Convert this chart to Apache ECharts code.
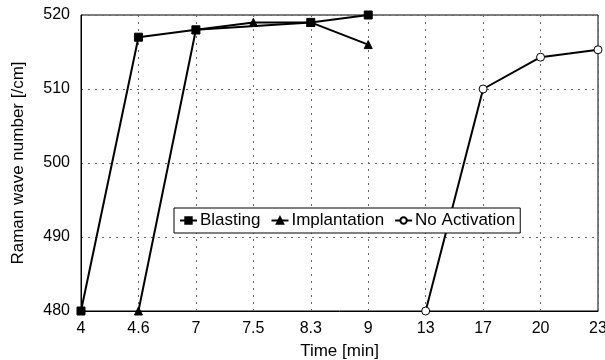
<!DOCTYPE html>
<html>
<head>
<meta charset="UTF-8">
<style>
    html, body { margin: 0; padding: 0; background: #fff; }
    #chart { width: 605px; height: 360px; }
</style>
</head>
<body>
<div id="chart"></div>
<script src="https://cdn.jsdelivr.net/npm/echarts@6/dist/echarts.min.js"></script>
<script>
    var times = ['4', '4.6', '7', '7.5', '8.3', '9', '13', '17', '20', '23'];
    var blasting = [480, 517, 518, null, 519, 520, null, null, null, null];
    var implantation = [null, 480, 518, 519, 519, 516, null, null, null, null];
    var noActivation = [null, null, null, null, null, null, 480, 510, 514.3, 515.3];

    var font = 'Liberation Sans, Arial, sans-serif';

    function line(name, data, symbol, size, filled) {
        return {
            name: name,
            type: 'line',
            data: data,
            connectNulls: true,
            symbol: symbol,
            symbolSize: size,
            lineStyle: { color: '#000', width: 2 },
            itemStyle: { color: filled ? '#000' : '#fff', borderColor: '#000', borderWidth: 1 },
            animation: false
        };
    }

    var chart = echarts.init(document.getElementById('chart'));
    chart.setOption({
        backgroundColor: '#fff',
        textStyle: { fontFamily: font },
        grid: {
            left: 81, right: 7, top: 15, bottom: 49,
            outerBoundsMode: 'none',
            show: true, borderColor: '#000', borderWidth: 1
        },
        legend: {
            left: 174, top: 208,
            padding: [4, 5],
            itemGap: 10,
            itemWidth: 17, itemHeight: 8,
            borderColor: '#000', borderWidth: 1,
            backgroundColor: '#fff',
            textStyle: { color: '#000', fontSize: 17, fontFamily: font, padding: [0, 0, 0, -2] },
            data: ['Blasting', 'Implantation', 'No Activation']
        },
        xAxis: {
            type: 'category',
            data: times,
            boundaryGap: false,
            name: 'Time [min]',
            nameLocation: 'middle',
            nameGap: 32,
            nameTextStyle: { color: '#000', fontSize: 17 },
            axisLine: { lineStyle: { color: '#000' } },
            axisTick: { show: false },
            axisLabel: { color: '#000', fontSize: 16, margin: 10 },
            splitLine: { show: true, lineStyle: { color: '#666', type: [2, 5] } }
        },
        yAxis: {
            type: 'value',
            min: 480, max: 520, interval: 10,
            name: 'Raman wave number [/cm]',
            nameLocation: 'middle',
            nameGap: 54,
            nameTextStyle: { color: '#000', fontSize: 17 },
            axisLine: { show: true, lineStyle: { color: '#000' } },
            axisTick: { show: false },
            axisLabel: { color: '#000', fontSize: 16, margin: 11 },
            splitLine: { show: true, lineStyle: { color: '#666', type: [2, 5] } }
        },
        series: [
            line('Blasting', blasting, 'rect', 8, true),
            line('Implantation', implantation, 'triangle', 8, true),
            line('No Activation', noActivation, 'circle', 8, false)
        ]
    });
</script>
</body>
</html>
